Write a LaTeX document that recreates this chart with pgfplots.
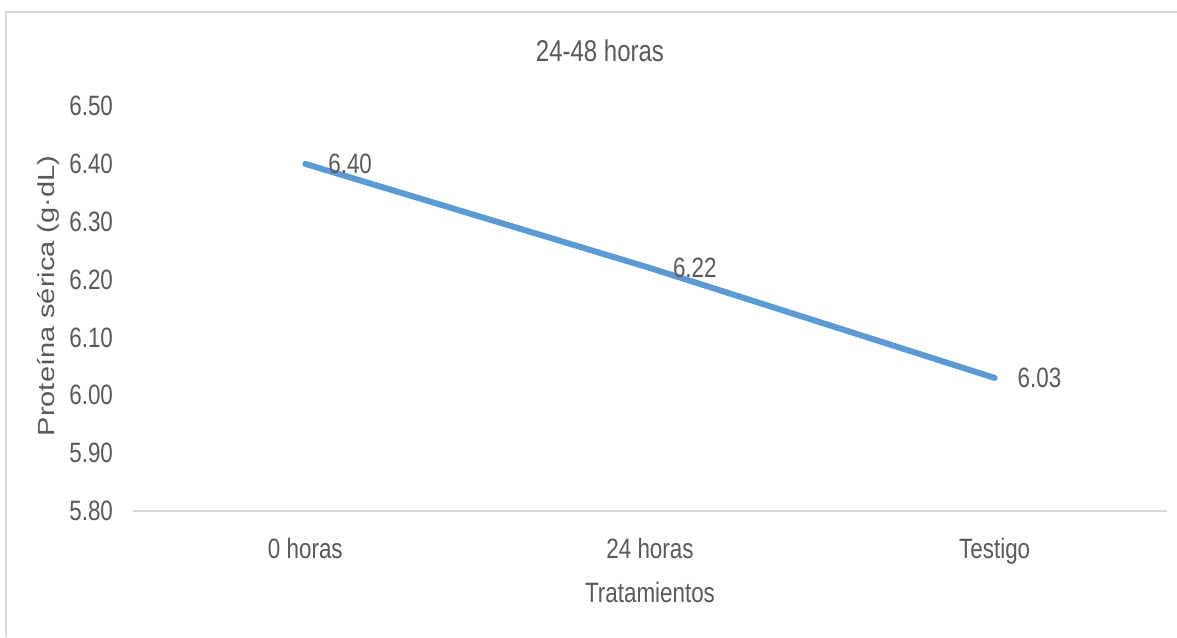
\documentclass[border=0pt]{standalone}
\usepackage{fontspec}
\setmainfont{Liberation Sans}[FakeStretch=0.8]
\newfontfamily\ylabfont{Liberation Sans}
\usepackage{graphicx}
\usepackage{pgfplots}
\pgfplotsset{compat=1.18}
\definecolor{txt}{HTML}{595959}
\definecolor{ln}{HTML}{5B9BD5}
\definecolor{bd}{HTML}{D9D9D9}
\begin{document}
\begin{tikzpicture}
\useasboundingbox (0,0) rectangle (588.5pt,318.5pt);
\draw[bd, line width=1pt] (3pt,0) -- (3pt,312.5pt) -- (588.5pt,312.5pt);
\begin{axis}[
  at={(66.5pt,63pt)}, anchor=south west,
  scale only axis, width=517pt, height=202.5pt,
  xmin=-0.5, xmax=2.5, ymin=5.8, ymax=6.5,
  xtick={0,1,2}, xticklabels={0 horas,24 horas,Testigo},
  ytick={5.8,5.9,6.0,6.1,6.2,6.3,6.4,6.5},
  /pgf/number format/assume math mode=true,
  yticklabel style={xshift=-6.5pt, /pgf/number format/.cd, fixed, fixed zerofill, precision=2},
  xticklabel style={yshift=-10pt},
  axis x line*=bottom, axis y line*=left,
  x axis line style={bd, line width=1pt},
  y axis line style={draw=none},
  major tick length=0pt,
  tick style={draw=none},
  ticklabel style={font=\fontsize{14}{16}\selectfont, text=txt},
  title={24-48 horas},
  title style={at={(axis description cs:0.4516,1.08)}, anchor=base, font=\fontsize{15}{18}\selectfont, text=txt},
  xlabel={Tratamientos},
  xlabel style={at={(axis description cs:0.5,-0.227)}, anchor=base, font=\fontsize{14}{16}\selectfont, text=txt},
  ylabel={\scalebox{1}[0.8]{\ylabfont Proteína sérica (g·dL)}},
  every axis y label/.style={at={(axis description cs:-0.0822,0.531)}, rotate=90, anchor=center, font=\fontsize{14.5}{17}\selectfont, text=txt},
  nodes near coords,
  nodes near coords style={anchor=west, inner sep=0pt, xshift=10pt, font=\fontsize{14}{16}\selectfont, text=txt, /pgf/number format/.cd, fixed, fixed zerofill, precision=2, assume math mode=true},
  clip=false,
]
\addplot[ln, line width=3pt, line cap=round, mark=none] coordinates {(0,6.40) (1,6.22) (2,6.03)};
\end{axis}
\end{tikzpicture}
\end{document}
